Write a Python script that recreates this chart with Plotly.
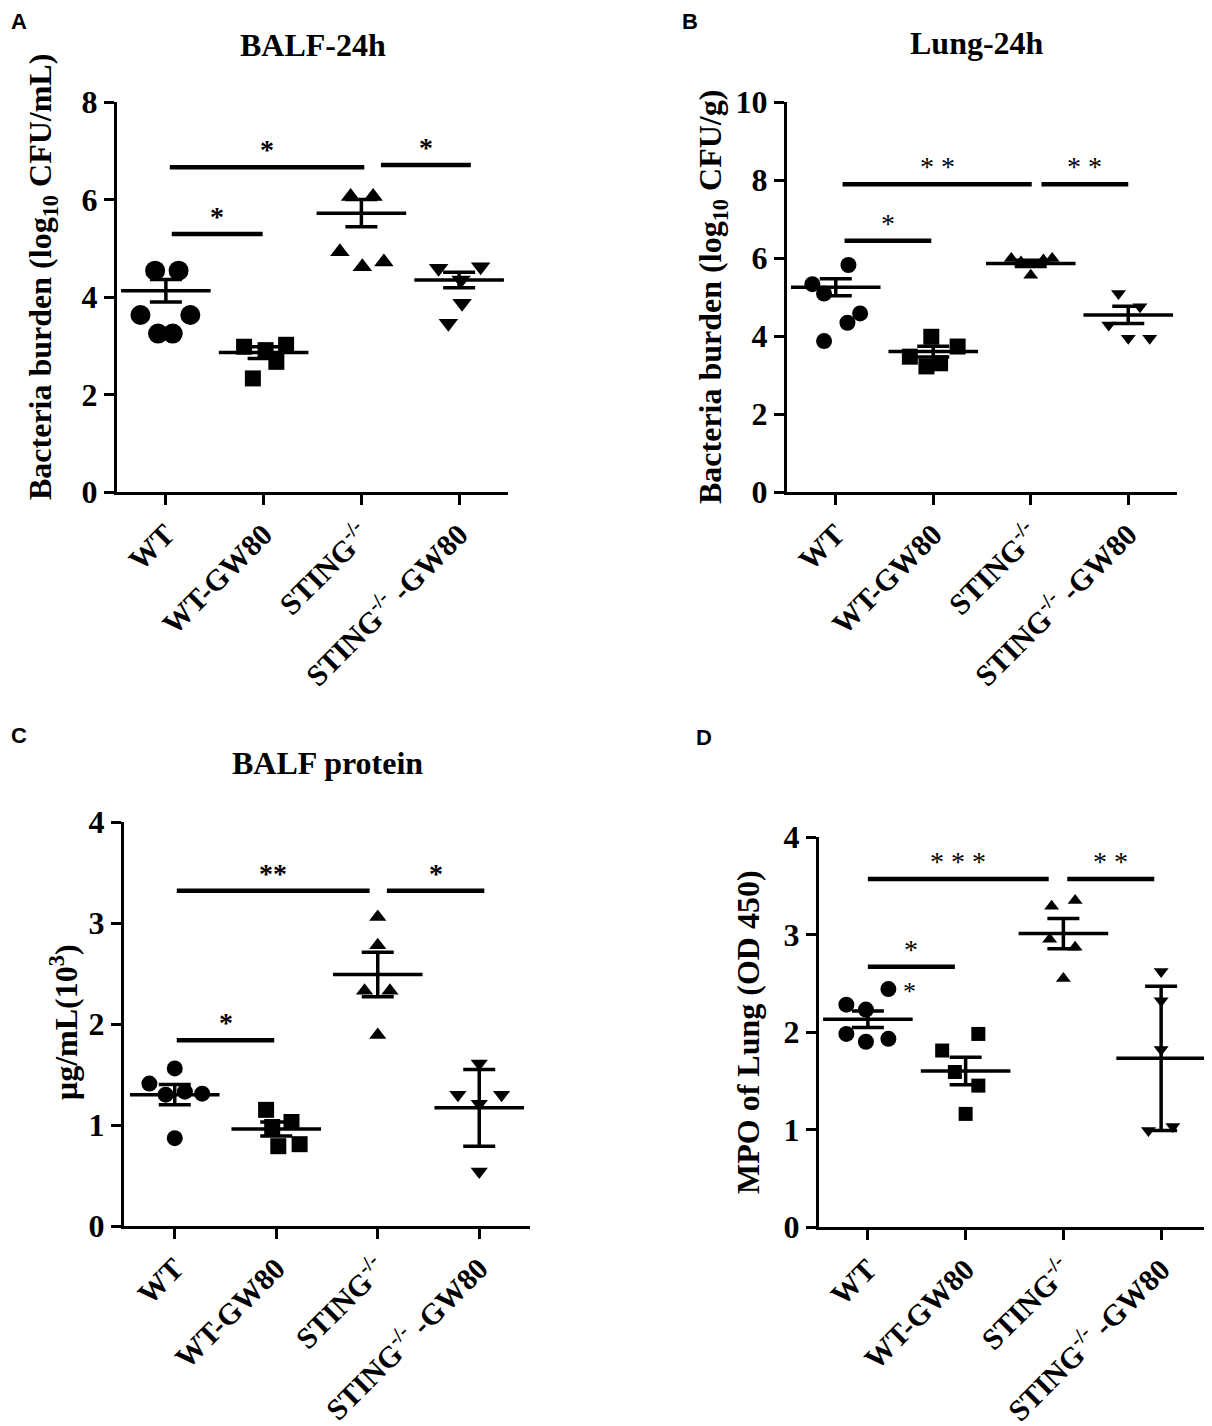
import plotly.graph_objects as go

W, H = 1212, 1426
PAD = 8  # the page body adds an 8px margin around the figure
SERIF = "Liberation Serif"

groups = ["WT", "WT-GW80", "STING<sup>-/-</sup>", "STING<sup>-/-</sup> -GW80"]
symbols = ["circle", "square", "triangle-up", "triangle-down"]

# A: BALF-24h, bacteria burden (log10 CFU/mL)
balf_wt = [4.54, 4.54, 3.63, 3.63, 3.25, 3.25]
balf_gw = [2.98, 2.91, 3.02, 2.67, 2.33]
balf_sting = [6.06, 6.06, 4.93, 4.62, 4.72]
balf_sting_gw = [4.59, 4.62, 3.87, 3.46, 4.35]
balf_mean = [4.13, 2.86, 5.72, 4.35]
balf_sem = [0.23, 0.12, 0.28, 0.16]
balf_spread = [[-0.11, 0.13, -0.26, 0.25, -0.08, 0.07],
               [-0.2, 0.02, 0.23, 0.13, -0.11],
               [-0.11, 0.12, -0.22, 0.01, 0.23],
               [-0.21, 0.22, 0.03, -0.11, 0.02]]
balf_sig = [(0.04, 2.03, 6.66, "*"), (2.2, 3.12, 6.71, "*"), (0.06, 0.99, 5.29, "*")]

# B: Lung-24h, bacteria burden (log10 CFU/g)
lung_wt = [5.33, 5.82, 5.09, 4.58, 4.34, 3.87]
lung_gw = [3.98, 3.73, 3.47, 3.30, 3.22]
lung_sting = [5.99, 5.90, 5.95, 5.99, 5.56]
lung_sting_gw = [5.09, 4.75, 4.28, 3.94, 3.94]
lung_mean = [5.25, 3.60, 5.86, 4.54]
lung_sem = [0.22, 0.14, 0.08, 0.22]
lung_spread = [[-0.24, 0.13, -0.12, 0.25, 0.12, -0.12],
               [-0.02, 0.25, -0.24, 0.07, -0.07],
               [-0.2, -0.1, 0.13, 0.22, 0.0],
               [-0.1, 0.12, -0.2, 0.0, 0.22]]
lung_sig = [(0.07, 2.01, 7.89, "* *"), (2.11, 3.0, 7.89, "* *"), (0.09, 0.98, 6.44, "*")]

# C: BALF protein (ug/mL x 10^3)
prot_wt = [1.41, 1.56, 1.31, 1.30, 1.33, 0.87]
prot_gw = [1.15, 1.03, 0.98, 0.79, 0.81]
prot_sting = [3.06, 2.78, 2.33, 2.33, 1.89]
prot_sting_gw = [1.61, 1.30, 1.30, 1.21, 0.54]
prot_mean = [1.30, 0.96, 2.49, 1.17]
prot_err = [0.10, 0.07, 0.22, 0.38]
prot_spread = [[-0.25, 0.0, 0.27, -0.09, 0.1, 0.0],
               [-0.1, 0.15, -0.04, 0.02, 0.23],
               [0.0, 0.0, -0.13, 0.12, 0.0],
               [0.0, -0.21, 0.22, 0.0, 0.0]]
prot_sig = [(0.02, 1.92, 3.32, "**"), (2.09, 3.05, 3.32, "*"), (0.02, 0.98, 1.84, "*")]

# D: MPO of lung (OD 450)
mpo_wt = [2.28, 2.23, 2.44, 1.98, 1.90, 1.93]
mpo_gw = [1.81, 1.98, 1.59, 1.45, 1.16]
mpo_sting = [3.29, 3.35, 2.95, 2.87, 2.55]
mpo_sting_gw = [2.62, 2.32, 1.82, 0.99, 1.03]
mpo_mean = [2.13, 1.60, 3.01, 1.73]
mpo_err = [0.085, 0.14, 0.155, 0.74]
mpo_spread = [[-0.22, -0.02, 0.21, -0.22, -0.02, 0.21],
              [-0.24, 0.13, -0.11, 0.13, 0.0],
              [-0.12, 0.12, -0.14, 0.12, 0.0],
              [0.0, 0.0, 0.0, -0.13, 0.12]]
mpo_sig = [(0.0, 1.85, 3.57, "* * *"), (2.04, 2.93, 3.57, "* *"), (0.0, 0.89, 2.67, "*")]

panels = [
    dict(letter="A", title="BALF-24h", ytitle="Bacteria burden (log<sub>10</sub> CFU/mL)",
         data=[balf_wt, balf_gw, balf_sting, balf_sting_gw], spread=balf_spread,
         mean=balf_mean, err=balf_sem, sig=balf_sig, yticks=[0, 2, 4, 6, 8],
         box=(117, 508, 102, 492), sizes=[20, 16, 17, 17], starsize=28, starbold=True,
         title_xy=(313, 45), ytitle_xy=(42, 277), letter_xy=(19, 22)),
    dict(letter="B", title="Lung-24h", ytitle="Bacteria burden (log<sub>10</sub> CFU/g)",
         data=[lung_wt, lung_gw, lung_sting, lung_sting_gw], spread=lung_spread,
         mean=lung_mean, err=lung_sem, sig=lung_sig, yticks=[0, 2, 4, 6, 8, 10],
         box=(787, 1177, 102, 492), sizes=[16, 16, 13, 13], starsize=28, starbold=False,
         title_xy=(977, 43), ytitle_xy=(712, 297), letter_xy=(690, 22)),
    dict(letter="C", title="BALF protein", ytitle="\u03bcg/mL(10<sup>3</sup>)",
         data=[prot_wt, prot_gw, prot_sting, prot_sting_gw], spread=prot_spread,
         mean=prot_mean, err=prot_err, sig=prot_sig, yticks=[0, 1, 2, 3, 4],
         box=(124, 530, 822, 1226), sizes=[16, 16, 15, 15], starsize=28, starbold=True,
         title_xy=(328, 763), ytitle_xy=(64, 1022), letter_xy=(19, 735)),
    dict(letter="D", title="", ytitle="MPO of Lung (OD 450)",
         data=[mpo_wt, mpo_gw, mpo_sting, mpo_sting_gw], spread=mpo_spread,
         mean=mpo_mean, err=mpo_err, sig=mpo_sig, yticks=[0, 1, 2, 3, 4],
         box=(819, 1210, 837, 1227), sizes=[16, 14, 13, 13], starsize=28, starbold=False,
         title_xy=None, ytitle_xy=(748, 1032), letter_xy=(704, 737)),
]


def px_x(v):
    return (v - PAD) / W


def px_y(v):
    return 1 - (v - PAD) / H


def paper_text(xy, text, size, family=SERIF, angle=0):
    return dict(xref="paper", yref="paper", x=px_x(xy[0]), y=px_y(xy[1]),
                xanchor="center", yanchor="middle", text=text, textangle=angle,
                showarrow=False, font=dict(family=family, size=size, color="black"))


fig = go.Figure()
annotations = []
shapes = []

for k, p in enumerate(panels, start=1):
    xa = "x" if k == 1 else f"x{k}"
    ya = "y" if k == 1 else f"y{k}"
    x0, x1, ytop, ybot = p["box"]

    for i, vals in enumerate(p["data"]):
        fig.add_trace(go.Scatter(
            x=[i + d for d in p["spread"][i]], y=vals, mode="markers",
            marker=dict(symbol=symbols[i], size=p["sizes"][i], color="black", line=dict(width=0)),
            xaxis=xa, yaxis=ya, showlegend=False, hoverinfo="y"))
    # mean line with error bars
    fig.add_trace(go.Scatter(
        x=list(range(4)), y=p["mean"], mode="markers",
        marker=dict(symbol="line-ew", size=64, line=dict(width=3.5, color="black")),
        error_y=dict(type="data", array=p["err"], width=16, thickness=3.5, color="black"),
        xaxis=xa, yaxis=ya, showlegend=False, hoverinfo="y"))

    for (sx0, sx1, sy, lab) in p["sig"]:
        shapes.append(dict(type="line", xref=xa, yref=ya, x0=sx0, x1=sx1, y0=sy, y1=sy,
                           line=dict(color="black", width=4.5)))
        annotations.append(dict(xref=xa, yref=ya, x=(sx0 + sx1) / 2, y=sy,
                                xanchor="center", yanchor="bottom",
                                text=f"<b>{lab}</b>" if p["starbold"] else lab, showarrow=False,
                                font=dict(family=SERIF, size=p["starsize"], color="black")))

    axis_common = dict(showline=True, linecolor="black", linewidth=3, ticks="outside",
                       ticklen=10, tickwidth=3, tickcolor="black", showgrid=False,
                       zeroline=False, automargin=False)
    fig.update_layout({
        f"xaxis{'' if k == 1 else k}": dict(
            domain=[px_x(x0), px_x(x1)], anchor=ya, range=[-0.5, 3.5],
            tickvals=list(range(4)), ticktext=[f"<b>{g}</b>" for g in groups],
            tickangle=-45, tickfont=dict(family=SERIF, size=30, color="black"), **axis_common),
        f"yaxis{'' if k == 1 else k}": dict(
            domain=[px_y(ybot), px_y(ytop)], anchor=xa,
            range=[0, p["yticks"][-1]], tickvals=p["yticks"],
            ticktext=[f"<b>{t}</b>" for t in p["yticks"]],
            tickfont=dict(family=SERIF, size=32, color="black"), **axis_common),
    })

    if p["title_xy"]:
        annotations.append(paper_text(p["title_xy"], f"<b>{p['title']}</b>", 32))
    annotations.append(paper_text(p["ytitle_xy"], f"<b>{p['ytitle']}</b>", 32, angle=-90))
    annotations.append(paper_text(p["letter_xy"], f"<b>{p['letter']}</b>", 22,
                                  family="Liberation Sans"))

# stray asterisk next to the WT points in panel D
annotations.append(dict(xref="x4", yref="y4", x=0.43, y=2.42, text="*", showarrow=False,
                        xanchor="center", yanchor="middle",
                        font=dict(family=SERIF, size=26, color="black")))

fig.update_layout(width=W, height=H, margin=dict(l=0, r=0, t=0, b=0, autoexpand=False),
                  paper_bgcolor="white", plot_bgcolor="white",
                  annotations=annotations, shapes=shapes)

fig.write_html("out.html")
